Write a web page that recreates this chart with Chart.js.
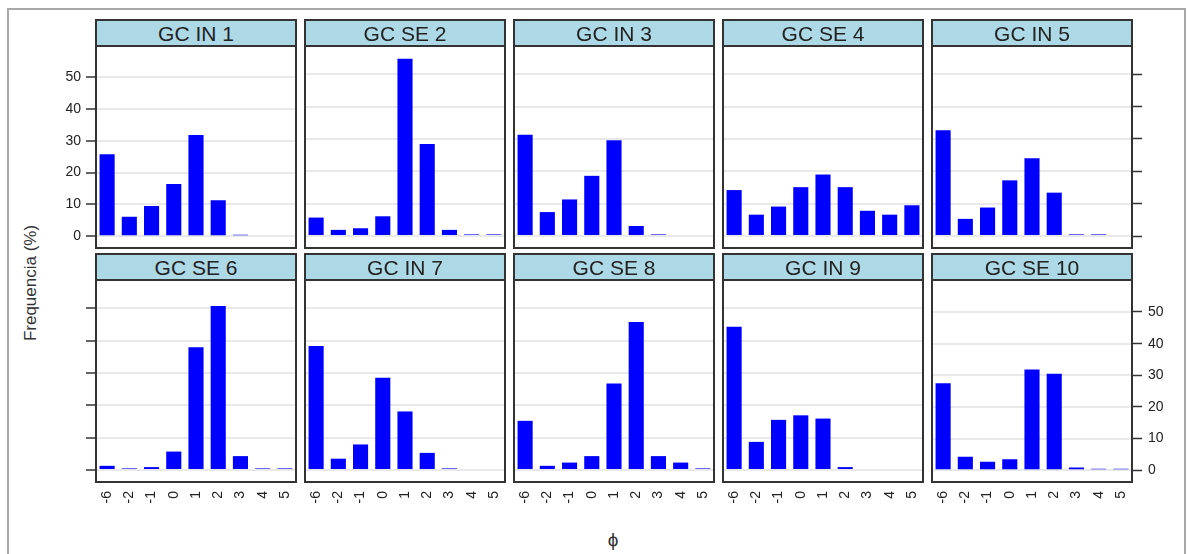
<!DOCTYPE html>
<html>
<head>
<meta charset="utf-8">
<script src="https://cdn.jsdelivr.net/npm/chart.js@4"></script>
<style>
  html, body { margin: 0; padding: 0; background: #fff; }
  body { width: 1189px; height: 554px; position: relative; overflow: hidden; font-family: 'Liberation Sans', Arial, sans-serif; }
  .outer { position: absolute; left: 7px; top: 8px; width: 1179px; height: 580px; border: 2px solid #a8a8a8; box-sizing: border-box; }
  .cv { position: absolute; }
  .frame { position: absolute; border: 2px solid #333; box-sizing: border-box; z-index: 5; }
  .strip { background: #add8e6; border-bottom: 2px solid #333; height: 26px; box-sizing: border-box; text-align: center; font-size: 21px; line-height: 25px; color: #222; }
  .ytitle { position: absolute; left: 31px; top: 283px; transform: translate(-50%, -50%) rotate(-90deg); font-size: 17px; color: #333; white-space: nowrap; }
  .xtitle { position: absolute; left: 613px; top: 540px; transform: translate(-50%, -50%); font-size: 19px; color: #333; }
</style>
</head>
<body>
<div class="outer"></div>
<div class="ytitle">Frequencia (%)</div>
<div class="xtitle">ϕ</div>
<script>
// categorias de phi
const categories = ['-6', '-2', '-1', '0', '1', '2', '3', '4', '5'];
const panelTitles = ['GC IN 1', 'GC SE 2', 'GC IN 3', 'GC SE 4', 'GC IN 5',
                     'GC SE 6', 'GC IN 7', 'GC SE 8', 'GC IN 9', 'GC SE 10'];

// frequencias (%)
const gcIn1  = [25.8, 6.1, 9.5, 16.4, 31.8, 11.3, 0.5, null, null];
const gcSe2  = [5.7, 1.9, 2.4, 6.1, 54.8, 28.4, 1.9, 0.5, 0.5];
const gcIn3  = [31.3, 7.4, 11.3, 18.6, 29.6, 3.1, 0.5, null, null];
const gcSe4  = [14.2, 6.6, 9.1, 15.1, 19.0, 15.1, 7.8, 6.6, 9.5];
const gcIn5  = [32.7, 5.3, 8.8, 17.2, 24.0, 13.4, 0.5, 0.5, null];
const gcSe6  = [1.3, 0.5, 0.9, 5.7, 37.9, 50.7, 4.3, 0.5, 0.5];
const gcIn7  = [38.3, 3.5, 7.9, 28.5, 18.1, 5.3, 0.5, null, null];
const gcSe8  = [15.2, 1.3, 2.3, 4.3, 26.7, 45.7, 4.3, 2.3, 0.5];
const gcIn9  = [44.3, 8.7, 15.5, 16.9, 15.9, 0.9, null, null, null];
const gcSe10 = [27.5, 4.3, 2.7, 3.5, 31.8, 30.5, 0.9, 0.5, 0.5];

const yTicks = [0, 10, 20, 30, 40, 50];

const series = [gcIn1, gcSe2, gcIn3, gcSe4, gcIn5, gcSe6, gcIn7, gcSe8, gcIn9, gcSe10];

// geometria dos paineis
const colLeft = [96, 305, 514, 723, 932];
const stripTop = [19, 253];
const plotTop = [47, 281];
const plotW = 200, plotH = 201;
const M = 60, T = 10, B = 40;

Chart.defaults.font.family = "'Liberation Sans', Arial, sans-serif";
Chart.defaults.color = '#222';

function setTicks(scale) {
  scale.ticks = yTicks.map(v => ({ value: v }));
}

series.forEach((vals, i) => {
  const row = Math.floor(i / 5), col = i % 5;
  const pl = colLeft[col];

  const frame = document.createElement('div');
  frame.className = 'frame';
  frame.style.left = (pl - 1) + 'px';
  frame.style.top = stripTop[row] + 'px';
  frame.style.width = (plotW + 2) + 'px';
  frame.style.height = (plotTop[row] + plotH + 1 - stripTop[row]) + 'px';
  const strip = document.createElement('div');
  strip.className = 'strip';
  strip.textContent = panelTitles[i];
  frame.appendChild(strip);
  document.body.appendChild(frame);

  const cv = document.createElement('canvas');
  cv.className = 'cv';
  cv.width = plotW + 2 * M;
  cv.height = plotH + T + B;
  cv.style.left = (pl - M) + 'px';
  cv.style.top = (plotTop[row] - T) + 'px';
  cv.style.width = cv.width + 'px';
  cv.style.height = cv.height + 'px';
  document.body.appendChild(cv);

  const leftAxis = col === 0;
  const rightAxis = col === 4;
  // largura das caixas dos eixos (os rotulos sao recortados a essa caixa)
  const wl = (leftAxis && row === 0) ? 50 : 0;
  const wr = (rightAxis && row === 1) ? 50 : 0;
  const hb = row === 1 ? B : 0;

  const scales = {
    x: {
      display: row === 1,
      offset: true,
      grid: { display: false, drawTicks: false },
      border: { display: false },
      ticks: { minRotation: 90, maxRotation: 90, padding: 9, font: { size: 14 }, color: '#222', autoSkip: false },
      afterFit: s => { s.height = hb; }
    },
    y: {
      position: 'left',
      min: -3.7,
      max: 58.4,
      afterBuildTicks: setTicks,
      afterFit: s => { s.width = wl; },
      border: { display: false },
      grid: {
        color: '#e9e9e9',
        lineWidth: 2,
        drawTicks: leftAxis,
        tickLength: 10,
        tickColor: '#333',
        tickWidth: 1.5
      },
      ticks: { display: leftAxis && row === 0, padding: 5, font: { size: 14 }, color: '#222' }
    }
  };
  if (rightAxis) {
    scales.y2 = {
      position: 'right',
      min: -3.7,
      max: 58.4,
      afterBuildTicks: setTicks,
      afterFit: s => { s.width = wr; },
      border: { display: false },
      grid: { drawOnChartArea: false, drawTicks: true, tickLength: 10, tickColor: '#333', tickWidth: 1.5 },
      ticks: { display: row === 1, padding: 6, font: { size: 14 }, color: '#222' }
    };
  }

  new Chart(cv, {
    type: 'bar',
    data: {
      labels: categories,
      datasets: [{
        label: panelTitles[i],
        data: vals,
        backgroundColor: '#0000ff',
        borderWidth: 0,
        categoryPercentage: 1,
        barPercentage: 0.68
      }]
    },
    options: {
      responsive: false,
      animation: false,
      layout: { padding: { left: M - wl, right: M - wr, top: T, bottom: B - hb } },
      plugins: { legend: { display: false }, tooltip: { enabled: false } },
      scales: scales
    }
  });
});
</script>
</body>
</html>
